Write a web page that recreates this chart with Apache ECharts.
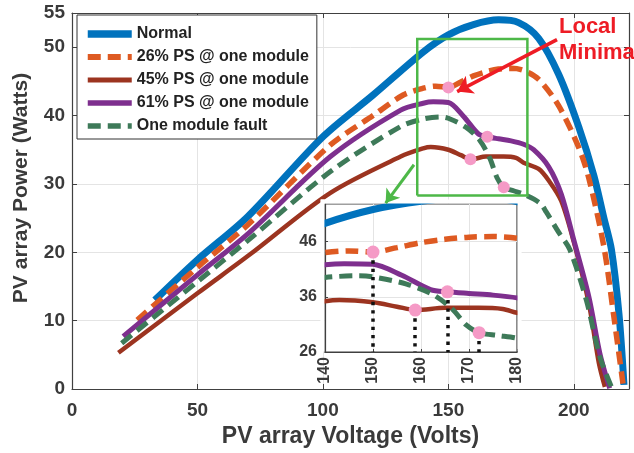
<!DOCTYPE html>
<html>
<head>
<meta charset="utf-8">
<script src="https://cdn.jsdelivr.net/npm/echarts@6/dist/echarts.min.js"></script>
<style>
html, body { margin: 0; padding: 0; background: #fff; }
#chart { width: 634px; height: 453px; }
</style>
</head>
<body>
<div id="chart"></div>
<script>
// curves: voltage (V) and power (W)
var normalV = [33, 50, 70, 100, 120, 140, 150, 160, 170, 178, 186, 194, 202, 208, 212, 215, 218, 220];
var normalP = [13.0, 18.9, 25.2, 36.9, 43.0, 49.3, 51.8, 53.3, 54.0, 53.6, 51.3, 46.0, 38.3, 31.2, 25.0, 20.4, 11.0, 0.6];

var ps26V = [26, 50, 70, 103, 120, 132, 140, 145, 150, 155, 160, 165, 170, 175, 180, 186, 194, 202, 206, 212, 216, 219.6];
var ps26P = [10.1, 17.8, 24.0, 35.7, 40.0, 43.0, 44.0, 44.3, 44.1, 44.9, 45.8, 46.4, 46.8, 46.9, 46.6, 45.3, 41.4, 35.3, 30.8, 20.8, 10.5, 0.8];

var ps45V = [18.5, 50, 71, 103, 131, 140, 143, 150, 155, 159, 165, 172, 177, 180, 186, 190, 195, 200, 206, 210, 212.4];
var ps45P = [5.3, 14.0, 19.7, 28.7, 34.0, 35.2, 35.4, 35.0, 34.2, 33.6, 34.0, 34.0, 33.8, 33.1, 32.2, 30.5, 27.5, 21.5, 12.5, 3.8, 0.3];

var ps61V = [20.4, 50, 71, 103, 131, 140, 144, 150, 156, 162, 165.5, 170, 175, 180, 184, 190, 195, 200, 206, 210.4, 214.3];
var ps61P = [7.7, 16.7, 23.0, 34.0, 40.8, 41.8, 42.0, 41.9, 39.9, 37.3, 36.9, 36.6, 36.3, 35.8, 35.0, 32.5, 28.5, 21.8, 13.5, 5.2, 0.1];

var faultV = [19.8, 50, 71, 103, 131, 140, 147, 150, 157, 162.5, 166.6, 169.4, 172.1, 176, 180, 186.5, 189, 194, 198.4, 205, 210.4, 215];
var faultP = [6.7, 15.7, 22.0, 31.8, 38.4, 39.5, 39.8, 39.6, 38.3, 36.4, 33.7, 30.9, 29.5, 29.0, 28.5, 27.2, 25.9, 22.9, 20.4, 13.0, 4.7, 0.3];

// local minima markers
var dotsV = [150, 158.8, 165.5, 172.1];
var dotsP = [44.1, 33.6, 36.9, 29.5];

// zoom box and arrows (data coords)
var boxV = [137.6, 181.5];
var boxP = [28.3, 51.2];
var redArrow = [[193.3, 51.1], [153.5, 43.5]];
var greenArrow = [[136.3, 32.8], [125, 27.2]];

// axis ranges
var mainX = [0, 222], mainY = [0, 55];
var insetX = [140, 180], insetY = [26, 52.8];

var FONT = '"Liberation Sans", Arial, sans-serif';
var axisColor = '#404040';
var labelColor = '#3a3a3a';
var gridColor = '#e4e4e4';
var pink = '#F59AC6';

var curves = [
  { name: 'Normal', v: normalV, p: normalP, color: '#0072BD', width: 7, dash: 'solid' },
  { name: '26% PS @ one module', v: ps26V, p: ps26P, color: '#DE5A22', width: 5.5, dash: [13, 7] },
  { name: '45% PS @ one module', v: ps45V, p: ps45P, color: '#9C3420', width: 4.5, dash: 'solid' },
  { name: '61% PS @ one module', v: ps61V, p: ps61P, color: '#7E2F8E', width: 5, dash: 'solid' },
  { name: 'One module fault', v: faultV, p: faultP, color: '#3E7A59', width: 5, dash: [13, 7] }
];

function zip(a, b) { return a.map(function (x, i) { return [x, b[i]]; }); }

var series = [];
curves.forEach(function (c) {
  var base = {
    name: c.name,
    type: 'line',
    data: zip(c.v, c.p),
    symbol: 'none',
    showSymbol: false,
    smooth: 0.3,
    silent: true,
    lineStyle: { color: c.color, width: c.width, type: c.dash, cap: 'butt' },
    itemStyle: { color: c.color }
  };
  series.push(Object.assign({}, base, { xAxisIndex: 0, yAxisIndex: 0, z: 2 }));
  series.push(Object.assign({}, base, { xAxisIndex: 2, yAxisIndex: 2, z: 3 }));
});

// green zoom box
series.push({
  type: 'lines', coordinateSystem: 'cartesian2d', xAxisIndex: 0, yAxisIndex: 0,
  polyline: true, silent: true, z: 5,
  lineStyle: { color: '#4DB848', width: 2.5, opacity: 1 },
  data: [{ coords: [[boxV[0], boxP[0]], [boxV[1], boxP[0]], [boxV[1], boxP[1]], [boxV[0], boxP[1]], [boxV[0], boxP[0]]] }]
});
// arrows
series.push({
  type: 'lines', coordinateSystem: 'cartesian2d', xAxisIndex: 0, yAxisIndex: 0,
  silent: true, z: 5, symbol: ['none', 'arrow'], symbolSize: 15,
  lineStyle: { color: '#EE1C25', width: 3.5, opacity: 1 },
  data: [{ coords: redArrow }]
});
series.push({
  type: 'lines', coordinateSystem: 'cartesian2d', xAxisIndex: 0, yAxisIndex: 0,
  silent: true, z: 5, symbol: ['none', 'arrow'], symbolSize: 13,
  lineStyle: { color: '#4DB848', width: 3, opacity: 1 },
  data: [{ coords: greenArrow }]
});
// dotted drop lines in the inset
series.push({
  type: 'lines', coordinateSystem: 'cartesian2d', xAxisIndex: 2, yAxisIndex: 2,
  silent: true, z: 5,
  lineStyle: { color: '#111', width: 3.5, type: [3.3, 5], opacity: 1 },
  data: dotsV.map(function (v, i) { return { coords: [[v, dotsP[i]], [v, insetY[0]]] }; })
});
// pink dots
series.push({
  type: 'scatter', xAxisIndex: 0, yAxisIndex: 0, silent: true, z: 6,
  symbolSize: 12, itemStyle: { color: pink, opacity: 1 }, data: zip(dotsV, dotsP)
});
series.push({
  type: 'scatter', xAxisIndex: 2, yAxisIndex: 2, silent: true, z: 6,
  symbolSize: 13, itemStyle: { color: pink, opacity: 1 }, data: zip(dotsV, dotsP)
});

var tickLabel = { fontFamily: FONT, fontWeight: 'bold', fontSize: 19, color: labelColor };
var lineAx = { onZero: false, lineStyle: { color: axisColor, width: 1.2 } };
var split = { show: true, showMinLine: false, showMaxLine: false, lineStyle: { color: gridColor, width: 1 } };

// inset placement (px)
var inset = { left: 325, right: 117, top: 204, bottom: 101 };
var insetR = 634 - inset.right;

var option = {
  animation: false,
  backgroundColor: '#fff',
  grid: [
    { left: 72, right: 5, top: 13, bottom: 64 },
    { left: inset.left, right: inset.right, top: inset.top, bottom: inset.bottom, show: true,
      backgroundColor: '#fff', borderColor: axisColor, borderWidth: 1.2, z: 1 }
  ],
  legend: {
    data: curves.map(function (c) {
      return { name: c.name, lineStyle: { width: c.width + 0.5, type: c.dash } };
    }),
    orient: 'vertical', left: 77, top: 15,
    padding: [11, 8, 5, 7], itemWidth: 44, itemHeight: 14, itemGap: 7,
    backgroundColor: '#fff', borderColor: '#333', borderWidth: 1,
    selectedMode: false,
    itemStyle: { color: 'rgba(0,0,0,0)', borderWidth: 0, opacity: 0 },
    textStyle: { fontFamily: FONT, fontWeight: 'bold', fontSize: 16, color: '#222' },
    z: 10
  },
  xAxis: [
    { type: 'value', gridIndex: 0, min: mainX[0], max: mainX[1], interval: 50, position: 'bottom',
      name: 'PV array Voltage (Volts)', nameLocation: 'middle', nameGap: 31,
      nameTextStyle: { fontFamily: FONT, fontWeight: 'bold', fontSize: 23, color: labelColor },
      axisLine: lineAx, axisTick: { inside: true, length: 5, lineStyle: { color: axisColor } },
      axisLabel: Object.assign({ margin: 12, showMaxLabel: false }, tickLabel),
      splitLine: split },
    { type: 'value', gridIndex: 0, min: mainX[0], max: mainX[1], interval: 50, position: 'top',
      axisLine: lineAx, axisTick: { inside: true, length: 5, lineStyle: { color: axisColor } },
      axisLabel: { show: false }, splitLine: { show: false } },
    { type: 'value', gridIndex: 1, min: insetX[0], max: insetX[1], interval: 10, z: 1,
      axisLine: lineAx, axisTick: { inside: true, length: 3, lineStyle: { color: axisColor } },
      axisLabel: { fontFamily: FONT, fontWeight: 'bold', fontSize: 16, color: labelColor, rotate: 90, margin: 5 },
      splitLine: split }
  ],
  yAxis: [
    { type: 'value', gridIndex: 0, min: mainY[0], max: mainY[1], interval: 10, position: 'left',
      name: 'PV array Power (Watts)', nameLocation: 'middle', nameGap: 40,
      nameTextStyle: { fontFamily: FONT, fontWeight: 'bold', fontSize: 21, color: labelColor, padding: [0, 0, 0, 26] },
      axisLine: lineAx, axisTick: { inside: true, length: 5, lineStyle: { color: axisColor } },
      axisLabel: Object.assign({ margin: 7, showMaxLabel: true }, tickLabel),
      splitLine: split },
    { type: 'value', gridIndex: 0, min: mainY[0], max: mainY[1], interval: 10, position: 'right',
      axisLine: lineAx, axisTick: { inside: true, length: 5, lineStyle: { color: axisColor } },
      axisLabel: { show: false }, splitLine: { show: false } },
    { type: 'value', gridIndex: 1, min: insetY[0], max: insetY[1], interval: 10, z: 1,
      axisLine: lineAx, axisTick: { inside: true, length: 3, lineStyle: { color: axisColor } },
      axisLabel: { fontFamily: FONT, fontWeight: 'bold', fontSize: 16, color: labelColor, margin: 8, showMaxLabel: false },
      splitLine: split }
  ],
  graphic: [
    // trim the inset lines exactly at the inset frame (echarts pads its clip by half a line width)
    { type: 'rect', z: 4, silent: true, shape: { x: inset.left - 4, y: inset.top - 4.6, width: insetR - inset.left + 8, height: 4 },
      style: { fill: '#fff' } },
    { type: 'rect', z: 4, silent: true, shape: { x: insetR + 0.6, y: inset.top - 4.6, width: 4, height: 453 - inset.bottom - inset.top + 4 },
      style: { fill: '#fff' } },
    { type: 'rect', z: 4, silent: true, shape: { x: inset.left - 4.6, y: inset.top - 4.6, width: 4, height: 453 - inset.bottom - inset.top + 4 },
      style: { fill: '#fff' } },
    { type: 'text', left: 559, top: 14, z: 20, silent: true,
      style: { text: 'Local\nMinima', fill: '#EE1C25', font: 'bold 22px ' + FONT, lineHeight: 26 } }
  ],
  series: series
};

var myChart = echarts.init(document.getElementById('chart'));
myChart.setOption(option);
</script>
</body>
</html>
